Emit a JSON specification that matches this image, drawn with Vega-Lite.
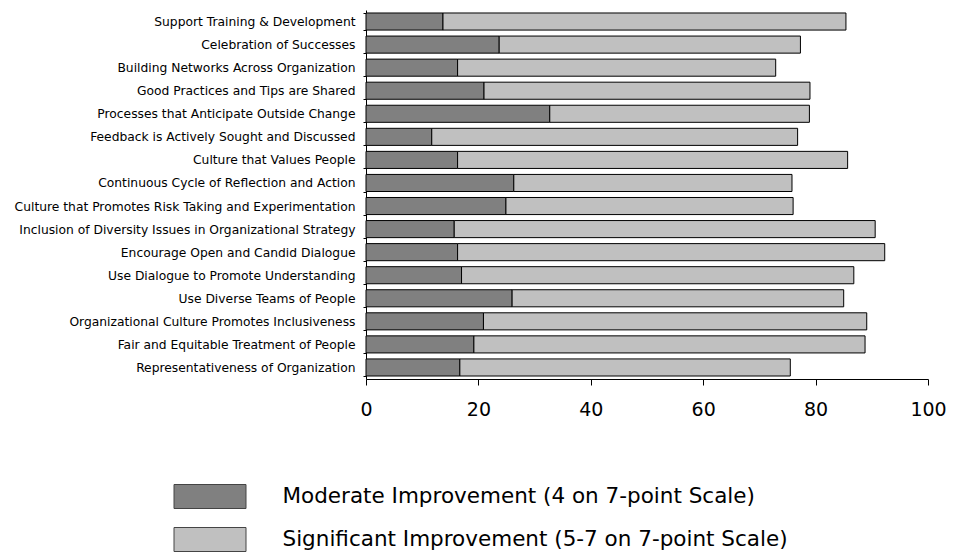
{
  "$schema": "https://vega.github.io/schema/vega-lite/v6.json",
  "width": 562,
  "height": 369,
  "autosize": "none",
  "padding": {"left": 366, "top": 10, "right": 35, "bottom": 174},
  "background": "white",
  "config": {
    "font": "DejaVu Sans",
    "view": {"stroke": null}
  },
  "data": {
    "values": [
      {"item": "Support Training & Development", "series": "Moderate Improvement (4 on 7-point Scale)", "k": 1, "value": 13.7},
      {"item": "Support Training & Development", "series": "Significant Improvement (5-7 on 7-point Scale)", "k": 2, "value": 71.7},
      {"item": "Celebration of Successes", "series": "Moderate Improvement (4 on 7-point Scale)", "k": 1, "value": 23.7},
      {"item": "Celebration of Successes", "series": "Significant Improvement (5-7 on 7-point Scale)", "k": 2, "value": 53.6},
      {"item": "Building Networks Across Organization", "series": "Moderate Improvement (4 on 7-point Scale)", "k": 1, "value": 16.3},
      {"item": "Building Networks Across Organization", "series": "Significant Improvement (5-7 on 7-point Scale)", "k": 2, "value": 56.6},
      {"item": "Good Practices and Tips are Shared", "series": "Moderate Improvement (4 on 7-point Scale)", "k": 1, "value": 21.0},
      {"item": "Good Practices and Tips are Shared", "series": "Significant Improvement (5-7 on 7-point Scale)", "k": 2, "value": 58.0},
      {"item": "Processes that Anticipate Outside Change", "series": "Moderate Improvement (4 on 7-point Scale)", "k": 1, "value": 32.7},
      {"item": "Processes that Anticipate Outside Change", "series": "Significant Improvement (5-7 on 7-point Scale)", "k": 2, "value": 46.2},
      {"item": "Feedback is Actively Sought and Discussed", "series": "Moderate Improvement (4 on 7-point Scale)", "k": 1, "value": 11.7},
      {"item": "Feedback is Actively Sought and Discussed", "series": "Significant Improvement (5-7 on 7-point Scale)", "k": 2, "value": 65.1},
      {"item": "Culture that Values People", "series": "Moderate Improvement (4 on 7-point Scale)", "k": 1, "value": 16.3},
      {"item": "Culture that Values People", "series": "Significant Improvement (5-7 on 7-point Scale)", "k": 2, "value": 69.4},
      {"item": "Continuous Cycle of Reflection and Action", "series": "Moderate Improvement (4 on 7-point Scale)", "k": 1, "value": 26.3},
      {"item": "Continuous Cycle of Reflection and Action", "series": "Significant Improvement (5-7 on 7-point Scale)", "k": 2, "value": 49.5},
      {"item": "Culture that Promotes Risk Taking and Experimentation", "series": "Moderate Improvement (4 on 7-point Scale)", "k": 1, "value": 24.9},
      {"item": "Culture that Promotes Risk Taking and Experimentation", "series": "Significant Improvement (5-7 on 7-point Scale)", "k": 2, "value": 51.1},
      {"item": "Inclusion of Diversity Issues in Organizational Strategy", "series": "Moderate Improvement (4 on 7-point Scale)", "k": 1, "value": 15.7},
      {"item": "Inclusion of Diversity Issues in Organizational Strategy", "series": "Significant Improvement (5-7 on 7-point Scale)", "k": 2, "value": 74.9},
      {"item": "Encourage Open and Candid Dialogue", "series": "Moderate Improvement (4 on 7-point Scale)", "k": 1, "value": 16.3},
      {"item": "Encourage Open and Candid Dialogue", "series": "Significant Improvement (5-7 on 7-point Scale)", "k": 2, "value": 76.0},
      {"item": "Use Dialogue to Promote Understanding", "series": "Moderate Improvement (4 on 7-point Scale)", "k": 1, "value": 17.0},
      {"item": "Use Dialogue to Promote Understanding", "series": "Significant Improvement (5-7 on 7-point Scale)", "k": 2, "value": 69.8},
      {"item": "Use Diverse Teams of People", "series": "Moderate Improvement (4 on 7-point Scale)", "k": 1, "value": 26.0},
      {"item": "Use Diverse Teams of People", "series": "Significant Improvement (5-7 on 7-point Scale)", "k": 2, "value": 59.0},
      {"item": "Organizational Culture Promotes Inclusiveness", "series": "Moderate Improvement (4 on 7-point Scale)", "k": 1, "value": 20.9},
      {"item": "Organizational Culture Promotes Inclusiveness", "series": "Significant Improvement (5-7 on 7-point Scale)", "k": 2, "value": 68.2},
      {"item": "Fair and Equitable Treatment of People", "series": "Moderate Improvement (4 on 7-point Scale)", "k": 1, "value": 19.2},
      {"item": "Fair and Equitable Treatment of People", "series": "Significant Improvement (5-7 on 7-point Scale)", "k": 2, "value": 69.6},
      {"item": "Representativeness of Organization", "series": "Moderate Improvement (4 on 7-point Scale)", "k": 1, "value": 16.7},
      {"item": "Representativeness of Organization", "series": "Significant Improvement (5-7 on 7-point Scale)", "k": 2, "value": 58.8}
    ]
  },
  "mark": {"type": "bar", "stroke": "black", "strokeWidth": 1},
  "encoding": {
    "y": {
      "field": "item",
      "type": "nominal",
      "sort": null,
      "scale": {"paddingInner": 0.26, "paddingOuter": 0.13},
      "axis": {
        "title": null,
        "labelFontSize": 12.3,
        "labelColor": "black",
        "labelPadding": 8,
        "tickSize": 3,
        "tickBand": "extent",
        "tickColor": "black",
        "domainColor": "black",
        "labelLimit": 400
      }
    },
    "x": {
      "field": "value",
      "type": "quantitative",
      "stack": "zero",
      "scale": {"domain": [0, 100], "nice": false},
      "axis": {
        "title": null,
        "values": [0, 20, 40, 60, 80, 100],
        "grid": false,
        "labelFlush": false,
        "labelFontSize": 19,
        "labelColor": "black",
        "labelPadding": 15,
        "tickSize": 6,
        "tickColor": "black",
        "domainColor": "black"
      }
    },
    "color": {
      "field": "series",
      "type": "nominal",
      "scale": {
        "domain": ["Moderate Improvement (4 on 7-point Scale)", "Significant Improvement (5-7 on 7-point Scale)"],
        "range": ["#808080", "#c0c0c0"]
      },
      "legend": {
        "title": null,
        "orient": "none",
        "legendX": -168.5,
        "legendY": 474,
        "direction": "vertical",
        "symbolType": "M-3,-1H3V1H-3Z",
        "symbolSize": 576,
        "symbolStrokeColor": "#444444",
        "symbolStrokeWidth": 1,
        "symbolOpacity": 1,
        "labelFontSize": 21.5,
        "labelColor": "black",
        "labelOffset": 60,
        "labelLimit": 700,
        "rowPadding": 14
      }
    },
    "order": {"field": "k", "type": "quantitative"}
  }
}
